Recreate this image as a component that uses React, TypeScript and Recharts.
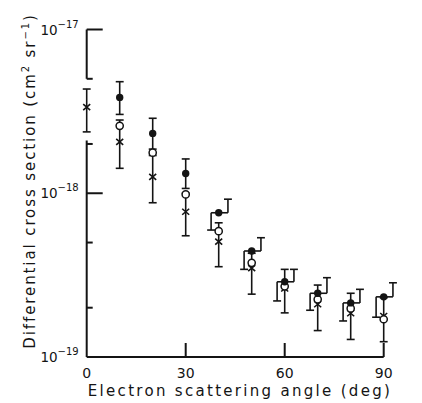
import React from 'react';
import { ScatterChart, Scatter, XAxis, YAxis, ReferenceLine, Label } from 'recharts';

// ---- data ----
const angles = [0, 10, 20, 30, 40, 50, 60, 70, 80, 90];
const filledVals = [null, 3.85e-18, 2.32e-18, 1.32e-18, 7.6e-19, 4.44e-19, 2.88e-19, 2.45e-19, 2.14e-19, 2.33e-19];
const filledHi = [null, 4.8e-18, 2.87e-18, 1.62e-18, 9.2e-19, 5.35e-19, 3.43e-19, 3.05e-19, 2.59e-19, 2.84e-19];
const filledLo = [null, 3.03e-18, 1.86e-18, 1.07e-18, 5.96e-19, 3.43e-19, 2.2e-19, 1.93e-19, 1.66e-19, 1.75e-19];
const openVals = [null, 2.58e-18, 1.77e-18, 9.84e-19, 5.87e-19, 3.76e-19, 2.7e-19, 2.25e-19, 1.98e-19, 1.7e-19];
const crossVals = [3.36e-18, 2.06e-18, 1.26e-18, 7.71e-19, 5.06e-19, 3.49e-19, 2.62e-19, 2.1e-19, 1.85e-19, 1.78e-19];
const crossHi = [4.33e-18, 2.8e-18, 1.7e-18, 1.0e-18, 6.6e-19, 4.3e-19, 3.43e-19, 2.75e-19, 2.45e-19, 2.3e-19];
const crossLo = [2.37e-18, 1.42e-18, 8.75e-19, 5.5e-19, 3.56e-19, 2.42e-19, 1.86e-19, 1.45e-19, 1.28e-19, 1.24e-19];
const yTicks = [1e-19, 2e-19, 5e-19, 1e-18, 2e-18, 5e-18, 1e-17];
const yMajor = [1e-19, 1e-18, 1e-17];
const yExpLabels = ['−19', '−18', '−17'];
const xTicks = [0, 30, 60, 90];
const yAxisBreak = [5e-18, 2.1e-18];

const INK = '#141414';
const FONT = '"DejaVu Sans", sans-serif';

const toPts = (vals: (number | null)[]) =>
  angles.map((a, i) => ({ x: a, y: vals[i] })).filter((d) => d.y != null);

const filledData = toPts(filledVals);
const openData = toPts(openVals);
const crossData = toPts(crossVals);

// error-bar geometry in data units
const CAP = 1.2;
const SPLIT_FROM = 40;
const RIGHT_OFF = 2.8;
const LEFT_OFF = 2.3;

type Seg = [number, number, number, number];
const segs: Seg[] = [];
angles.forEach((a, i) => {
  segs.push([a, crossLo[i], a, crossHi[i]]);
  segs.push([a - CAP, crossLo[i], a + CAP, crossLo[i]]);
  segs.push([a - CAP, crossHi[i], a + CAP, crossHi[i]]);
  const v = filledVals[i];
  const hi = filledHi[i] as number;
  const lo = filledLo[i] as number;
  if (v == null) return;
  if (a < SPLIT_FROM) {
    segs.push([a, lo, a, hi]);
    segs.push([a - CAP, lo, a + CAP, lo]);
    segs.push([a - CAP, hi, a + CAP, hi]);
  } else {
    const xr = a + RIGHT_OFF;
    const xl = a - LEFT_OFF;
    segs.push([a, v, xr, v]);
    segs.push([xr, v, xr, hi]);
    segs.push([xr - CAP, hi, xr + CAP, hi]);
    segs.push([a, v, xl, v]);
    segs.push([xl, v, xl, lo]);
    segs.push([xl - CAP, lo, xl + CAP, lo]);
  }
});

const FilledDot = (p: any) => <circle cx={p.cx} cy={p.cy} r={3.7} fill={INK} />;
const OpenDot = (p: any) => (
  <circle cx={p.cx} cy={p.cy} r={3.6} fill="#fff" stroke={INK} strokeWidth={1.5} />
);
const CrossMark = (p: any) => (
  <path
    d={`M${p.cx - 3.5},${p.cy - 3} L${p.cx + 3.5},${p.cy + 3} M${p.cx + 3.5},${p.cy - 3} L${p.cx - 3.5},${p.cy + 3}`}
    stroke={INK}
    strokeWidth={1.6}
    fill="none"
  />
);

const YTick = (p: any) => {
  const v = p.payload.value;
  const mi = yMajor.indexOf(v);
  const isMajor = mi >= 0;
  const len = isMajor ? 16 : 6;
  return (
    <g>
      {v !== 1e-19 && (
        <line x1={p.x} y1={p.y} x2={p.x + len} y2={p.y} stroke={INK} strokeWidth={2} />
      )}
      {isMajor && (
        <text x={p.x - 8} y={p.y + 5} textAnchor="end" fontFamily={FONT} fontSize={13.5} fill={INK}>
          10
          <tspan dy={-7} fontSize={10}>{yExpLabels[mi]}</tspan>
        </text>
      )}
    </g>
  );
};

const XTick = (p: any) => {
  const v = p.payload.value;
  return (
    <g>
      {v !== 0 && <line x1={p.x} y1={p.y} x2={p.x} y2={p.y - 14} stroke={INK} strokeWidth={2} />}
      <text x={p.x} y={p.y + 21} textAnchor="middle" fontFamily={FONT} fontSize={14} fill={INK}>
        {v}
      </text>
    </g>
  );
};

export default function App() {
  return (
    <div style={{ position: 'absolute', left: 0, top: 0, background: '#fff' }}>
      <ScatterChart width={422} height={403} margin={{ top: 29.5, right: 38.3, bottom: 0, left: 6.7 }}>
        <XAxis
          type="number"
          dataKey="x"
          domain={[0, 90]}
          ticks={xTicks}
          height={46}
          tickSize={0}
          tickMargin={0}
          tickLine={false}
          axisLine={{ stroke: INK, strokeWidth: 2 }}
          tick={<XTick />}
        >
          <Label
            content={() => (
              <text x={240} y={396} textAnchor="middle" fontFamily={FONT} fontSize={15} letterSpacing={2.3} fill={INK}>
                Electron scattering angle (deg)
              </text>
            )}
          />
        </XAxis>
        <YAxis
          type="number"
          dataKey="y"
          scale="log"
          domain={[1e-19, 1e-17]}
          ticks={yTicks}
          width={80}
          tickSize={0}
          tickMargin={0}
          tickLine={false}
          axisLine={false}
          tick={<YTick />}
        >
          <Label
            content={() => (
              <text
                x={0}
                y={0}
                transform="translate(35,181) rotate(-90)"
                textAnchor="middle"
                fontFamily={FONT}
                fontSize={15}
                letterSpacing={1.9}
                fill={INK}
              >
                Differential cross section (cm
                <tspan dy={-6} fontSize={10}>2</tspan>
                <tspan dy={6}> sr</tspan>
                <tspan dy={-6} fontSize={10}>−1</tspan>
                <tspan dy={6}>)</tspan>
              </text>
            )}
          />
        </YAxis>
        <ReferenceLine
          segment={[{ x: 0, y: 1e-17 }, { x: 0, y: yAxisBreak[0] }]}
          stroke={INK}
          strokeWidth={2}
          ifOverflow="visible"
        />
        <ReferenceLine
          segment={[{ x: 0, y: yAxisBreak[1] }, { x: 0, y: 1e-19 }]}
          stroke={INK}
          strokeWidth={2}
          ifOverflow="visible"
        />
        {segs.map((s, k) => (
          <ReferenceLine
            key={k}
            segment={[{ x: s[0], y: s[1] }, { x: s[2], y: s[3] }]}
            stroke={INK}
            strokeWidth={1.6}
            ifOverflow="visible"
          />
        ))}
        <Scatter data={crossData} shape={CrossMark} isAnimationActive={false} />
        <Scatter data={openData} shape={OpenDot} isAnimationActive={false} />
        <Scatter data={filledData} shape={FilledDot} isAnimationActive={false} />
      </ScatterChart>
    </div>
  );
}
